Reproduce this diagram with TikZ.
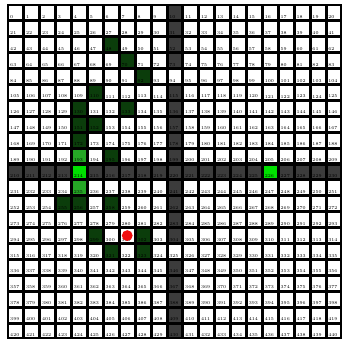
\documentclass[tikz,border=0pt]{standalone}
\usetikzlibrary{positioning}
\definecolor{gridWall}{HTML}{3C3C3C}
\definecolor{wallText}{HTML}{8A8A8A}
\definecolor{gridPath}{HTML}{0B3D0B}
\definecolor{gridMid}{HTML}{26A826}
\definecolor{gridLit}{HTML}{00E000}
\definecolor{goalRed}{HTML}{F01010}
\tikzset{
  cell/.style   = {rectangle, minimum size=4.05mm, inner sep=0pt},
  num/.style    = {font=\fontsize{4}{4.5}\selectfont, inner sep=0.7pt, anchor=south west},
  goal/.style   = {circle, fill=goalRed, minimum size=3.4mm, inner sep=0pt},
  board/.style  = {fill=black},
}
% colour of a cell by its index
\newcommand{\paintcells}[2]{%
  \foreach \k in {#1}{\expandafter\xdef\csname cellcol\k\endcsname{#2}}}
\newcommand{\wallname}{gridWall}
\paintcells{10,31,52,73,115,136,157,178,199,241,262,283,304,346,367,388,409,430}{gridWall}
\paintcells{210,211,212,213,215,216,217,218,219,220,221,222,223,224,225,227,228,229,230}{gridWall}
\paintcells{48,70,92,110,130,133,151,152,172,195,255,256,258,299,302,321,323}{gridPath}
\paintcells{193,235}{gridMid}
\paintcells{214,226}{gridLit}

\begin{document}
\begin{tikzpicture}[x=0.5cm, y=0.5cm]
\useasboundingbox (-0.5,0.31) rectangle (21,-21.19);
\fill[board] (-0.03,0.03) rectangle (21.03,-21.03);
\foreach \r in {0,...,20}{
  \foreach \c in {0,...,20}{
    \pgfmathtruncatemacro\n{21*\r+\c}
    \ifcsname cellcol\n\endcsname
      \edef\fillcol{\csname cellcol\n\endcsname}
    \else
      \def\fillcol{white}
    \fi
    \ifx\fillcol\wallname \def\txtcol{wallText}\else\def\txtcol{black}\fi
    \node[cell, fill=\fillcol] (c\n) at (\c+0.5,-\r-0.5) {};
    \node[num, text=\txtcol] (t\n) at (c\n.south west) {\n};
  }
}
\node[goal] (goal) at (c301) {};
\end{tikzpicture}
\end{document}
